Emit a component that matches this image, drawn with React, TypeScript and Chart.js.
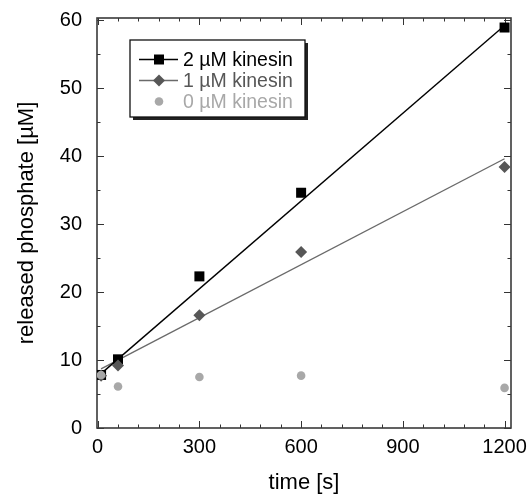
import React, { useEffect, useRef } from 'react';
import { Chart, registerables } from 'chart.js';

Chart.register(...registerables);

if (typeof document !== 'undefined') {
  document.body.style.margin = '0';
}

// ---- data ----
const timeS = [10, 60, 300, 600, 1200];
const kinesin2uM = [7.8, 10.1, 22.3, 34.6, 58.9];
const kinesin1uM = [7.7, 9.2, 16.6, 25.9, 38.4];
const kinesin0uM = [7.8, 6.1, 7.5, 7.7, 5.9];
const fitTime = [10, 1200];
const fit2uM = [8.0, 59.2];
const fit1uM = [8.7, 39.6];
const xTickValues = [0, 300, 600, 900, 1200];
const yTickValues = [0, 10, 20, 30, 40, 50, 60];
const legendLabels = ['2 µM kinesin', '1 µM kinesin', '0 µM kinesin'];

const FONT = "'Liberation Sans', Arial, Helvetica, sans-serif";
const C2 = '#000000';
const C1 = '#575757';
const C1LINE = '#6a6a6a';
const C0 = '#a8a8a8';

const toXY = (xs: number[], ys: number[]) => xs.map((x, i) => ({ x, y: ys[i] }));

const framePlugin = {
  id: 'frame',
  beforeDatasetsDraw(chart: any) {
    const { ctx, chartArea: a, scales } = chart;
    const x = scales.x;
    const y = scales.y;
    ctx.save();
    ctx.strokeStyle = '#333';
    ctx.lineWidth = 1;
    ctx.beginPath();
    for (let v = 0; v <= 1200; v += 60) {
      const px = Math.round(x.getPixelForValue(v)) + 0.5;
      const len = v % 300 === 0 ? 7 : 3.5;
      ctx.moveTo(px, a.bottom);
      ctx.lineTo(px, a.bottom - len);
      ctx.moveTo(px, a.top);
      ctx.lineTo(px, a.top + len);
    }
    for (let v = 0; v <= 60; v += 5) {
      const py = Math.round(y.getPixelForValue(v)) + 0.5;
      const len = v % 10 === 0 ? 7 : 3.5;
      ctx.moveTo(a.left, py);
      ctx.lineTo(a.left + len, py);
      ctx.moveTo(a.right, py);
      ctx.lineTo(a.right - len, py);
    }
    ctx.stroke();
    ctx.lineWidth = 1.6;
    ctx.strokeStyle = '#3a3a3a';
    ctx.strokeRect(a.left, a.top, a.right - a.left, a.bottom - a.top);
    ctx.restore();
  },
};

const legendPlugin = {
  id: 'boxLegend',
  afterDraw(chart: any) {
    const { ctx } = chart;
    const bx = 130, by = 40, bw = 175, bh = 77;
    ctx.save();
    ctx.fillStyle = '#222';
    ctx.fillRect(bx + 3, by + 3, bw, bh);
    ctx.fillStyle = '#fff';
    ctx.fillRect(bx, by, bw, bh);
    ctx.strokeStyle = '#111';
    ctx.lineWidth = 1.3;
    ctx.strokeRect(bx, by, bw, bh);

    const rows = [59.5, 80.5, 101.5];
    const colors = [C2, C1, C0];
    const lineColors = [C2, C1LINE, null];
    const mx = 159;
    ctx.font = `19.5px ${FONT}`;
    ctx.textBaseline = 'middle';
    ctx.textAlign = 'left';
    rows.forEach((ry, i) => {
      const lc = lineColors[i];
      if (lc) {
        ctx.strokeStyle = lc;
        ctx.lineWidth = 1.3;
        ctx.beginPath();
        ctx.moveTo(139, ry);
        ctx.lineTo(178, ry);
        ctx.stroke();
      }
      ctx.fillStyle = colors[i];
      ctx.beginPath();
      if (i === 0) {
        ctx.rect(mx - 5, ry - 5, 10, 10);
      } else if (i === 1) {
        ctx.moveTo(mx - 6, ry);
        ctx.lineTo(mx, ry - 6);
        ctx.lineTo(mx + 6, ry);
        ctx.lineTo(mx, ry + 6);
        ctx.closePath();
      } else {
        ctx.arc(mx, ry, 4.3, 0, Math.PI * 2);
      }
      ctx.fill();
      ctx.fillStyle = colors[i];
      ctx.fillText(legendLabels[i], 183, ry + 1);
    });
    ctx.restore();
  },
};

export default function App() {
  const ref = useRef<HTMLCanvasElement | null>(null);

  useEffect(() => {
    if (!ref.current) return;
    const chart = new Chart(ref.current, {
      type: 'scatter',
      data: {
        datasets: [
          {
            label: 'fit 2',
            data: toXY(fitTime, fit2uM),
            showLine: true,
            borderColor: C2,
            borderWidth: 1.4,
            pointRadius: 0,
            order: 5,
          },
          {
            label: 'fit 1',
            data: toXY(fitTime, fit1uM),
            showLine: true,
            borderColor: C1LINE,
            borderWidth: 1.4,
            pointRadius: 0,
            order: 5,
          },
          {
            label: legendLabels[0],
            data: toXY(timeS, kinesin2uM),
            pointStyle: 'rect',
            pointRadius: 7.07,
            backgroundColor: C2,
            borderColor: C2,
            borderWidth: 0,
            order: 3,
          },
          {
            label: legendLabels[1],
            data: toXY(timeS, kinesin1uM),
            pointStyle: 'rectRot',
            pointRadius: 6,
            backgroundColor: C1,
            borderColor: C1,
            borderWidth: 0,
            order: 2,
          },
          {
            label: legendLabels[2],
            data: toXY(timeS, kinesin0uM),
            pointStyle: 'circle',
            pointRadius: 4.3,
            backgroundColor: C0,
            borderColor: C0,
            borderWidth: 0,
            order: 1,
          },
        ],
      },
      options: {
        responsive: false,
        animation: false,
        devicePixelRatio: 1,
        layout: { padding: { top: 18, right: 17, left: 0, bottom: 0 } },
        plugins: {
          legend: { display: false },
          tooltip: { enabled: false },
        },
        scales: {
          x: {
            type: 'linear',
            min: -2,
            max: 1219,
            afterBuildTicks: (s: any) => {
              s.ticks = xTickValues.map((v) => ({ value: v }));
            },
            afterFit: (s: any) => {
              s.height = 68;
              s.paddingLeft = 0;
              s.paddingRight = 0;
            },
            grid: { display: false, drawTicks: false },
            border: { display: false },
            ticks: {
              font: { family: FONT, size: 20 },
              color: '#000',
              padding: 7,
              maxRotation: 0,
              autoSkip: false,
              callback: (v: any) => String(v),
            },
            title: {
              display: true,
              text: 'time [s]',
              font: { family: FONT, size: 22 },
              color: '#000',
              padding: { top: 0, bottom: 0 },
            },
          },
          y: {
            type: 'linear',
            min: 0,
            max: 60.3,
            afterBuildTicks: (s: any) => {
              s.ticks = yTickValues.map((v) => ({ value: v }));
            },
            afterFit: (s: any) => {
              s.width = 97;
              s.paddingTop = 0;
              s.paddingBottom = 0;
            },
            grid: { display: false, drawTicks: false },
            border: { display: false },
            ticks: {
              font: { family: FONT, size: 20 },
              color: '#000',
              padding: 15,
              autoSkip: false,
              callback: (v: any) => String(v),
            },
            title: {
              display: true,
              text: 'released phosphate [µM]',
              font: { family: FONT, size: 22 },
              color: '#000',
              padding: { top: 14, bottom: 0 },
            },
          },
        },
      },
      plugins: [framePlugin, legendPlugin],
    } as any);
    return () => chart.destroy();
  }, []);

  return (
    <div style={{ width: 528, height: 496 }}>
      <canvas ref={ref} width={528} height={496} style={{ display: 'block' }} />
    </div>
  );
}
